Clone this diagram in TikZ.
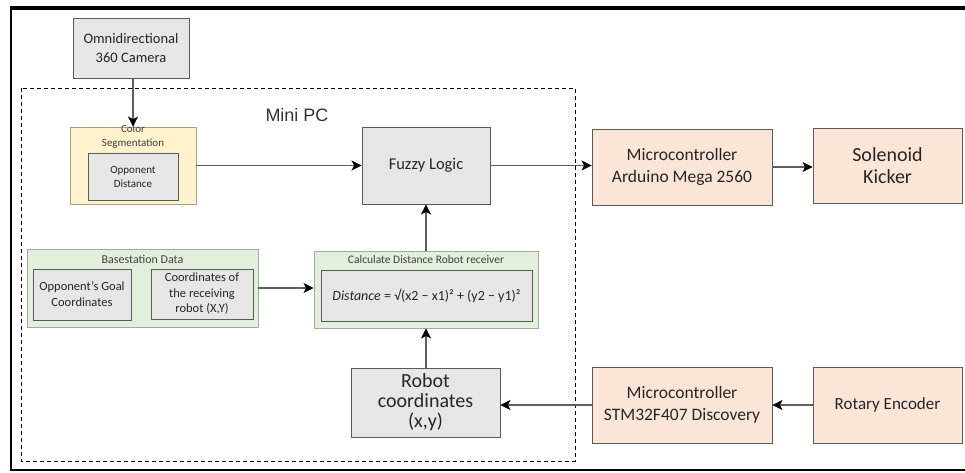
\documentclass[tikz,border=0pt]{standalone}
\usepackage{fontspec}
\setmainfont{Carlito}
\newfontfamily\arialfont{Liberation Sans}
\usetikzlibrary{arrows.meta}
\definecolor{boxgray}{HTML}{E6E6E6}
\definecolor{edgegray}{HTML}{5A5A5A}
\definecolor{segyellow}{HTML}{FFF2CC}
\definecolor{basegreen}{HTML}{E2EFDA}
\definecolor{peach}{HTML}{FBE5D6}
\definecolor{linegray}{HTML}{5E5E5E}
\newcommand{\fs}[2]{\fontsize{#1}{#2}\selectfont}
\tikzset{
  box/.style={draw=edgegray, line width=0.9pt, align=center, inner sep=1pt, text=black!85},
  graybox/.style={box, fill=boxgray},
  peachbox/.style={box, fill=peach},
  yellowbox/.style={box, fill=segyellow, draw=gray!80!yellow},
  greenbox/.style={box, fill=basegreen, draw=gray!70},
  title/.style={text=black!75, inner sep=0pt, align=center},
  flow/.style={draw=linegray, line width=1.4pt, -{Stealth[length=10pt,width=10pt,inset=2.5pt,color=black]}},
}
\begin{document}
\begin{tikzpicture}[x=1pt,y=-1pt]
\useasboundingbox (0,0) rectangle (965,472);

% frame
\draw[line width=3.5pt] (9.5,8) -- (965,8);
\draw[line width=2.5pt] (11,6.5) -- (11,471);
\draw[line width=2pt] (10,470) -- (965,470);

% Mini PC region
\draw[line width=0.9pt, dash pattern=on 4pt off 3pt] (21,88) rectangle (575,461);
\node[font=\arialfont\fs{18}{20}, text=black!80, anchor=base] (minipc) at (297,121) {Mini PC};

% camera
\node[graybox, minimum width=116pt, minimum height=60pt, font=\fs{14.5}{19.5}] (camera) at (131,48) {Omnidirectional\\360 Camera};

% colour segmentation
\node[yellowbox, minimum width=126pt, minimum height=77pt] (color) at (133,165.5) {};
\node[title, anchor=north, font=\fs{11}{14.5}] (colortitle) at (133,124.5) {Color\\Segmentation};
\node[graybox, minimum width=90pt, minimum height=47pt, font=\fs{11}{14}] (oppdist) at (133,176.5) {Opponent\\Distance};

% fuzzy logic
\node[graybox, minimum width=128pt, minimum height=77pt, font=\fs{16.5}{19}] (fuzzy) at (426,165.5) {Fuzzy Logic};

% microcontrollers and peripherals
\node[peachbox, minimum width=180pt, minimum height=76pt, font=\fs{17.5}{22}] (arduino) at (682,167) {Microcontroller\\Arduino Mega 2560};
\node[peachbox, minimum width=149pt, minimum height=75pt, font=\fs{20}{22}] (solenoid) at (887.5,165.5) {Solenoid\\Kicker};
\node[peachbox, minimum width=180pt, minimum height=76pt, font=\fs{17.5}{22}] (stm) at (682,405) {Microcontroller\\STM32F407 Discovery};
\node[peachbox, minimum width=149pt, minimum height=76pt, font=\fs{17}{20}] (encoder) at (887.5,405) {Rotary Encoder};

% robot coordinates
\node[graybox, minimum width=149pt, minimum height=69pt, font=\fs{20}{20}] (robot) at (425.5,402.5) {Robot\\coordinates\\(x,y)};

% distance calculation
\node[greenbox, minimum width=224pt, minimum height=77pt] (calc) at (426,289.5) {};
\node[title, anchor=base, font=\fs{11.5}{13}] (calctitle) at (426,263) {Calculate Distance Robot receiver};
\node[graybox, minimum width=211pt, minimum height=51pt, font=\fs{14}{16}] (formula) at (426.5,295.5) {\textit{Distance} = √(x2 − x1)² + (y2 − y1)²};

% basestation data
\node[greenbox, minimum width=231pt, minimum height=78pt] (base) at (142.5,288) {};
\node[title, anchor=base, font=\fs{12}{13}] (basetitle) at (142.5,263) {Basestation Data};
\node[graybox, minimum width=98pt, minimum height=51pt, font=\fs{12.5}{16}] (goal) at (82,294.5) {Opponent’s Goal\\Coordinates};
\node[graybox, minimum width=102pt, minimum height=50pt, font=\fs{12.5}{15.5}] (receiver) at (202,294) {Coordinates of\\the receiving\\robot (X,Y)};

% connections
\draw[flow] (color.north |- camera.south) -- (color.north);
\draw[flow] (color.east |- fuzzy.west) -- (fuzzy.west);
\draw[flow] (fuzzy.east) -- (fuzzy.east -| arduino.west);
\draw[flow] (arduino.east) -- (arduino.east -| solenoid.west);
\draw[flow] (base.east) -- (base.east -| calc.west);
\draw[flow] (calc.north -| fuzzy.south) -- (fuzzy.south);
\draw[flow] (robot.north -| calc.south) -- (calc.south);
\draw[flow] (stm.west) -- (stm.west -| robot.east);
\draw[flow] (encoder.west) -- (encoder.west -| stm.east);
\end{tikzpicture}
\end{document}
